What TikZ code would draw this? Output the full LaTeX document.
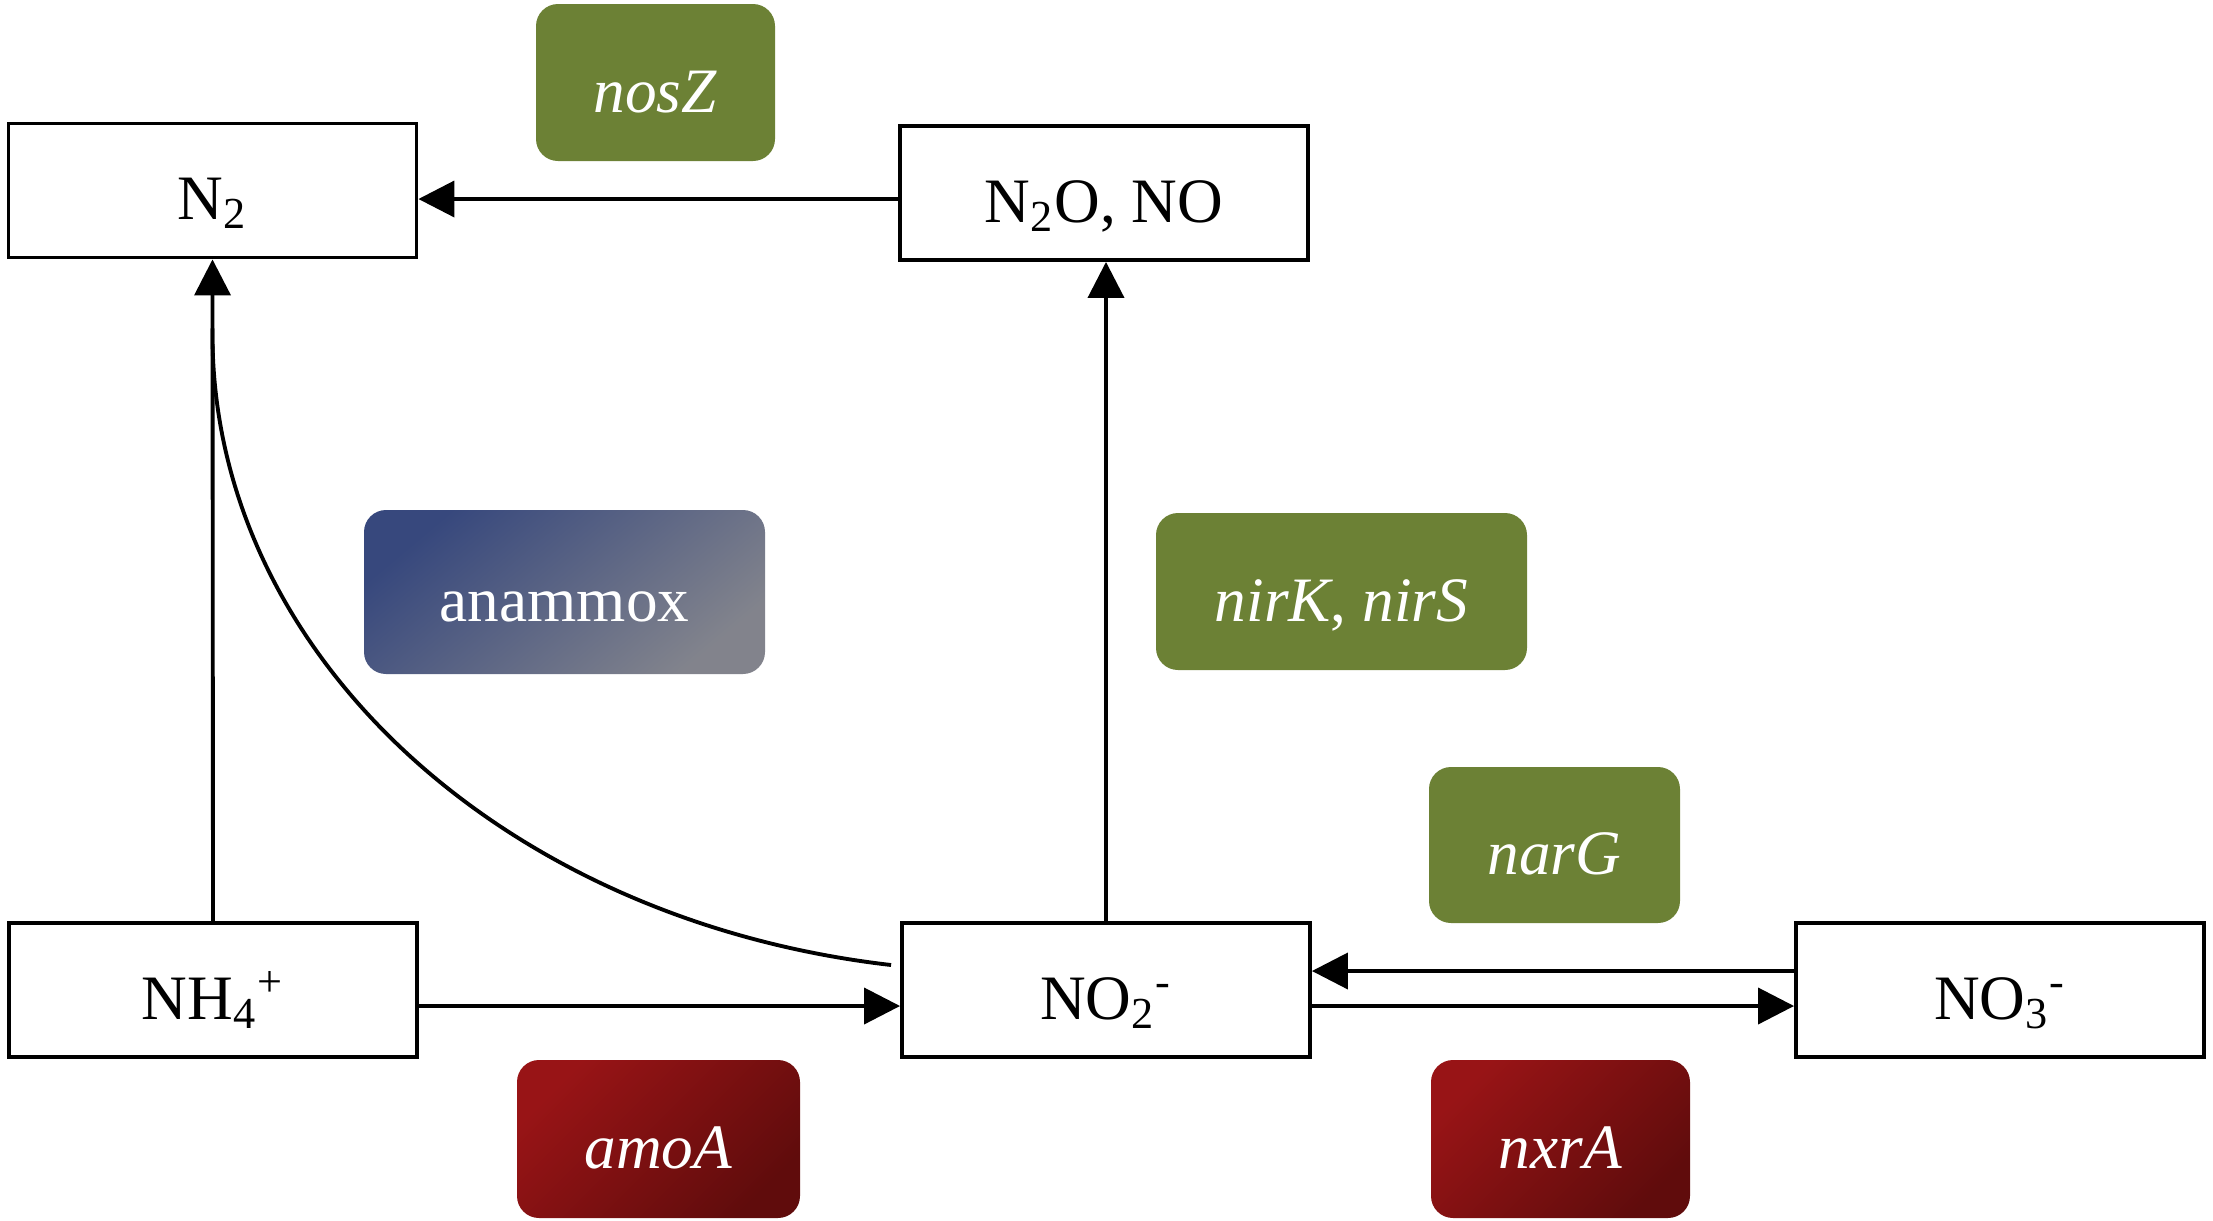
\documentclass[tikz,border=0pt]{standalone}
\usepackage{fontspec}
\setmainfont{Liberation Serif}
\usetikzlibrary{arrows.meta}
\definecolor{genegreen}{RGB}{108,129,53}
\definecolor{anablue}{RGB}{55,72,125}
\definecolor{anagray}{RGB}{138,138,142}
\definecolor{genered}{RGB}{152,20,22}
\definecolor{genedark}{RGB}{96,12,12}

\begin{document}
\begin{tikzpicture}[
  species/.style={draw, line width=1.1pt, minimum width=4.08cm, minimum height=1.34cm, text height=16.5pt, text depth=0pt, font=\fontsize{18}{20}\selectfont},
  gene/.style={rounded corners=0.22cm, text=white, text height=17pt, text depth=0pt, font=\fontsize{18}{20}\selectfont},
  redgene/.style={gene, top color=genered, bottom color=genedark, shading angle=45},
  arr/.style={line width=1.1pt, -{Triangle[length=3.6mm,width=3.6mm]}}]
\useasboundingbox (0,0) rectangle (22.13,-12.20);
% nitrogen species
\node[species] (n2) at (2.125,-1.905) {N\textsubscript{2}};
\node[species] (n2o) at (11.04,-1.93) {N\textsubscript{2}O, NO};
\node[species] (nh4) at (2.13,-9.90) {NH\textsubscript{4}\textsuperscript{+}};
\node[species] (no2) at (11.06,-9.90) {NO\textsubscript{2}\textsuperscript{-}};
\node[species] (no3) at (20.00,-9.90) {NO\textsubscript{3}\textsuperscript{-}};
% genes
\node[gene, fill=genegreen, minimum width=2.39cm, minimum height=1.57cm] (nosz) at (6.555,-0.825) {\textit{nosZ}};
\node[gene, top color=anablue, middle color=anablue!85!anagray, bottom color=anagray!90!anablue, shading angle=40, minimum width=4.01cm, minimum height=1.64cm] (anammox) at (5.645,-5.92) {anammox};
\node[gene, fill=genegreen, minimum width=3.71cm, minimum height=1.57cm] (nirk) at (13.415,-5.915) {\textit{nirK}, \textit{nirS}};
\node[gene, fill=genegreen, minimum width=2.51cm, minimum height=1.56cm] (narg) at (15.545,-8.45) {\textit{narG}};
\node[redgene, minimum width=2.83cm, minimum height=1.58cm] (amoa) at (6.585,-11.39) {\textit{amoA}};
\node[redgene, minimum width=2.59cm, minimum height=1.58cm] (nxra) at (15.605,-11.39) {\textit{nxrA}};
% reactions
\draw[arr] ([yshift=-0.6mm]n2o.west) -- ([yshift=-0.6mm]n2o.west -| n2.east);
\draw[arr] (no2.north) -- (n2o.south -| no2.north);
\draw[arr] (nh4.north) -- (n2.south);
\draw[arr] ([yshift=-1.6mm]nh4.east) -- ([yshift=-1.6mm]no2.west);
\draw[arr] ([yshift=1.9mm]no3.west) -- ([yshift=1.9mm]no2.east);
\draw[arr] ([yshift=-1.6mm]no2.east) -- ([yshift=-1.6mm]no3.west);
\draw[line width=1.1pt] ([xshift=-0.9mm,yshift=2.5mm]no2.west) .. controls (5.0,-9.2) and (2.09,-6.5) .. ([yshift=-6.9mm]n2.south);
\end{tikzpicture}
\end{document}
